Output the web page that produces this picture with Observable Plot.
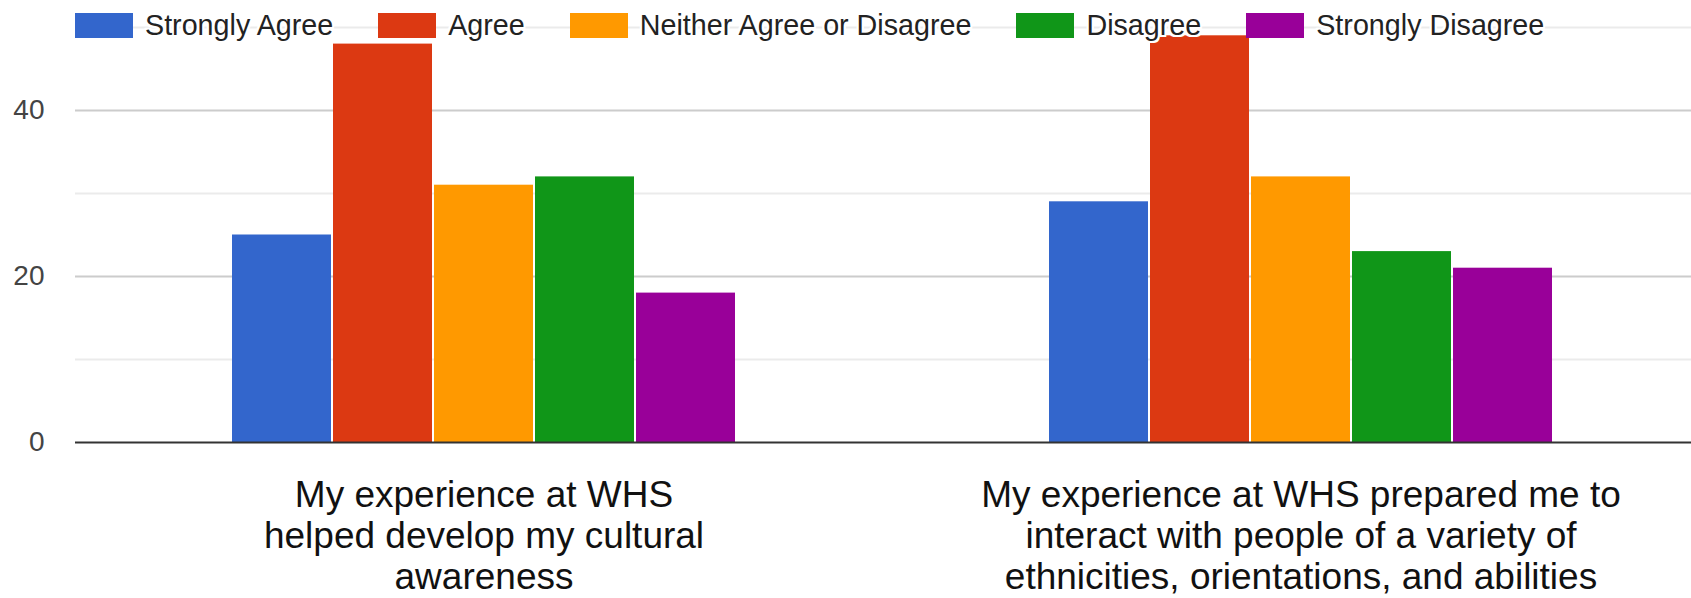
<!DOCTYPE html>
<html>
<head>
<meta charset="utf-8">
<script src="https://cdn.jsdelivr.net/npm/d3@7"></script>
<script src="https://cdn.jsdelivr.net/npm/@observablehq/plot@0.6"></script>
<style>
  body { margin: 0; background: #fff; overflow: hidden; }
  #wrap { position: relative; width: 1691px; height: 598px; overflow: hidden; }
  #legend {
    position: absolute; left: 75px; top: 13px; z-index: 2;
    display: flex; gap: 45px;
    font-family: "Liberation Sans", Arial, sans-serif; font-size: 28.7px; color: #222;
  }
  #legend .item { display: flex; align-items: center; gap: 12px; }
  #legend .sw { width: 58px; height: 25px; }
  #legend .lab {
    line-height: 25px;
    text-shadow: -2px 0 #fff, 2px 0 #fff, 0 -2px #fff, 0 2px #fff,
                 -2px -2px #fff, 2px 2px #fff, -2px 2px #fff, 2px -2px #fff;
  }
</style>
</head>
<body>
<div id="wrap"><div id="legend"></div><div id="chart"></div></div>
<script>
// Survey statements (one cluster of bars each) and their wrapped label lines
const groups = [
  "My experience at WHS helped develop my cultural awareness",
  "My experience at WHS prepared me to interact with people of a variety of ethnicities, orientations, and abilities"
];
const groupLines = [
  ["My experience at WHS", "helped develop my cultural", "awareness"],
  ["My experience at WHS prepared me to", "interact with people of a variety of", "ethnicities, orientations, and abilities"]
];

// Response options and their colours
const responses = ["Strongly Agree", "Agree", "Neither Agree or Disagree", "Disagree", "Strongly Disagree"];
const colors = ["#3366cc", "#dc3912", "#ff9900", "#109618", "#990099"];

// Response counts per statement, in the order of `responses`
const culturalAwareness = [25, 48, 31, 32, 18];
const interactVariety = [29, 49, 32, 23, 21];

// Y axis labels and grid lines
const yTicks = [0, 20, 40];
const majorGrid = [20, 40];
const minorGrid = [10, 30, 50];

const series = [culturalAwareness, interactVariety];
const rows = groups.flatMap((g, gi) =>
  responses.map((r, ri) => ({group: g, response: r, value: series[gi][ri]}))
);
const labelRows = groups.map((g, gi) => ({group: g, text: groupLines[gi].join("\n")}));

// Legend
const legend = d3.select("#legend");
responses.forEach((r, i) => {
  const item = legend.append("div").attr("class", "item");
  item.append("div").attr("class", "sw").style("background", colors[i]);
  item.append("div").attr("class", "lab").text(r);
});

// The chart area runs a little past the right edge of the page, as in a
// cropped dashboard view; facets touch so the grid lines stay continuous.
const chart = Plot.plot({
  width: 1691,
  height: 598,
  marginLeft: 75,
  marginRight: -18,
  marginTop: 27,
  marginBottom: 156,
  style: {fontFamily: "'Liberation Sans', Arial, sans-serif", background: "#fff", overflow: "hidden"},
  fx: {domain: groups, padding: 0, axis: null, label: null},
  x: {domain: responses, paddingInner: 0.02, paddingOuter: 1.5225, axis: null},
  y: {domain: [0, 50], axis: null},
  color: {domain: responses, range: colors},
  marks: [
    Plot.ruleY(minorGrid, {stroke: "#ebebeb", strokeWidth: 2}),
    Plot.ruleY(majorGrid, {stroke: "#cccccc", strokeWidth: 2}),
    Plot.barY(rows, {fx: "group", x: "response", y: "value", fill: "response"}),
    Plot.ruleY([0], {stroke: "#333", strokeWidth: 2}),
    Plot.axisY({
      ticks: yTicks, tickSize: 0, tickPadding: 31,
      fontSize: 28, color: "#444", label: null
    }),
    Plot.text(labelRows, {
      fx: "group", text: "text",
      frameAnchor: "bottom", lineAnchor: "top", dy: 36,
      fontSize: 37, lineHeight: 1.1, fill: "#111"
    })
  ]
});
document.getElementById("chart").append(chart);
</script>
</body>
</html>
